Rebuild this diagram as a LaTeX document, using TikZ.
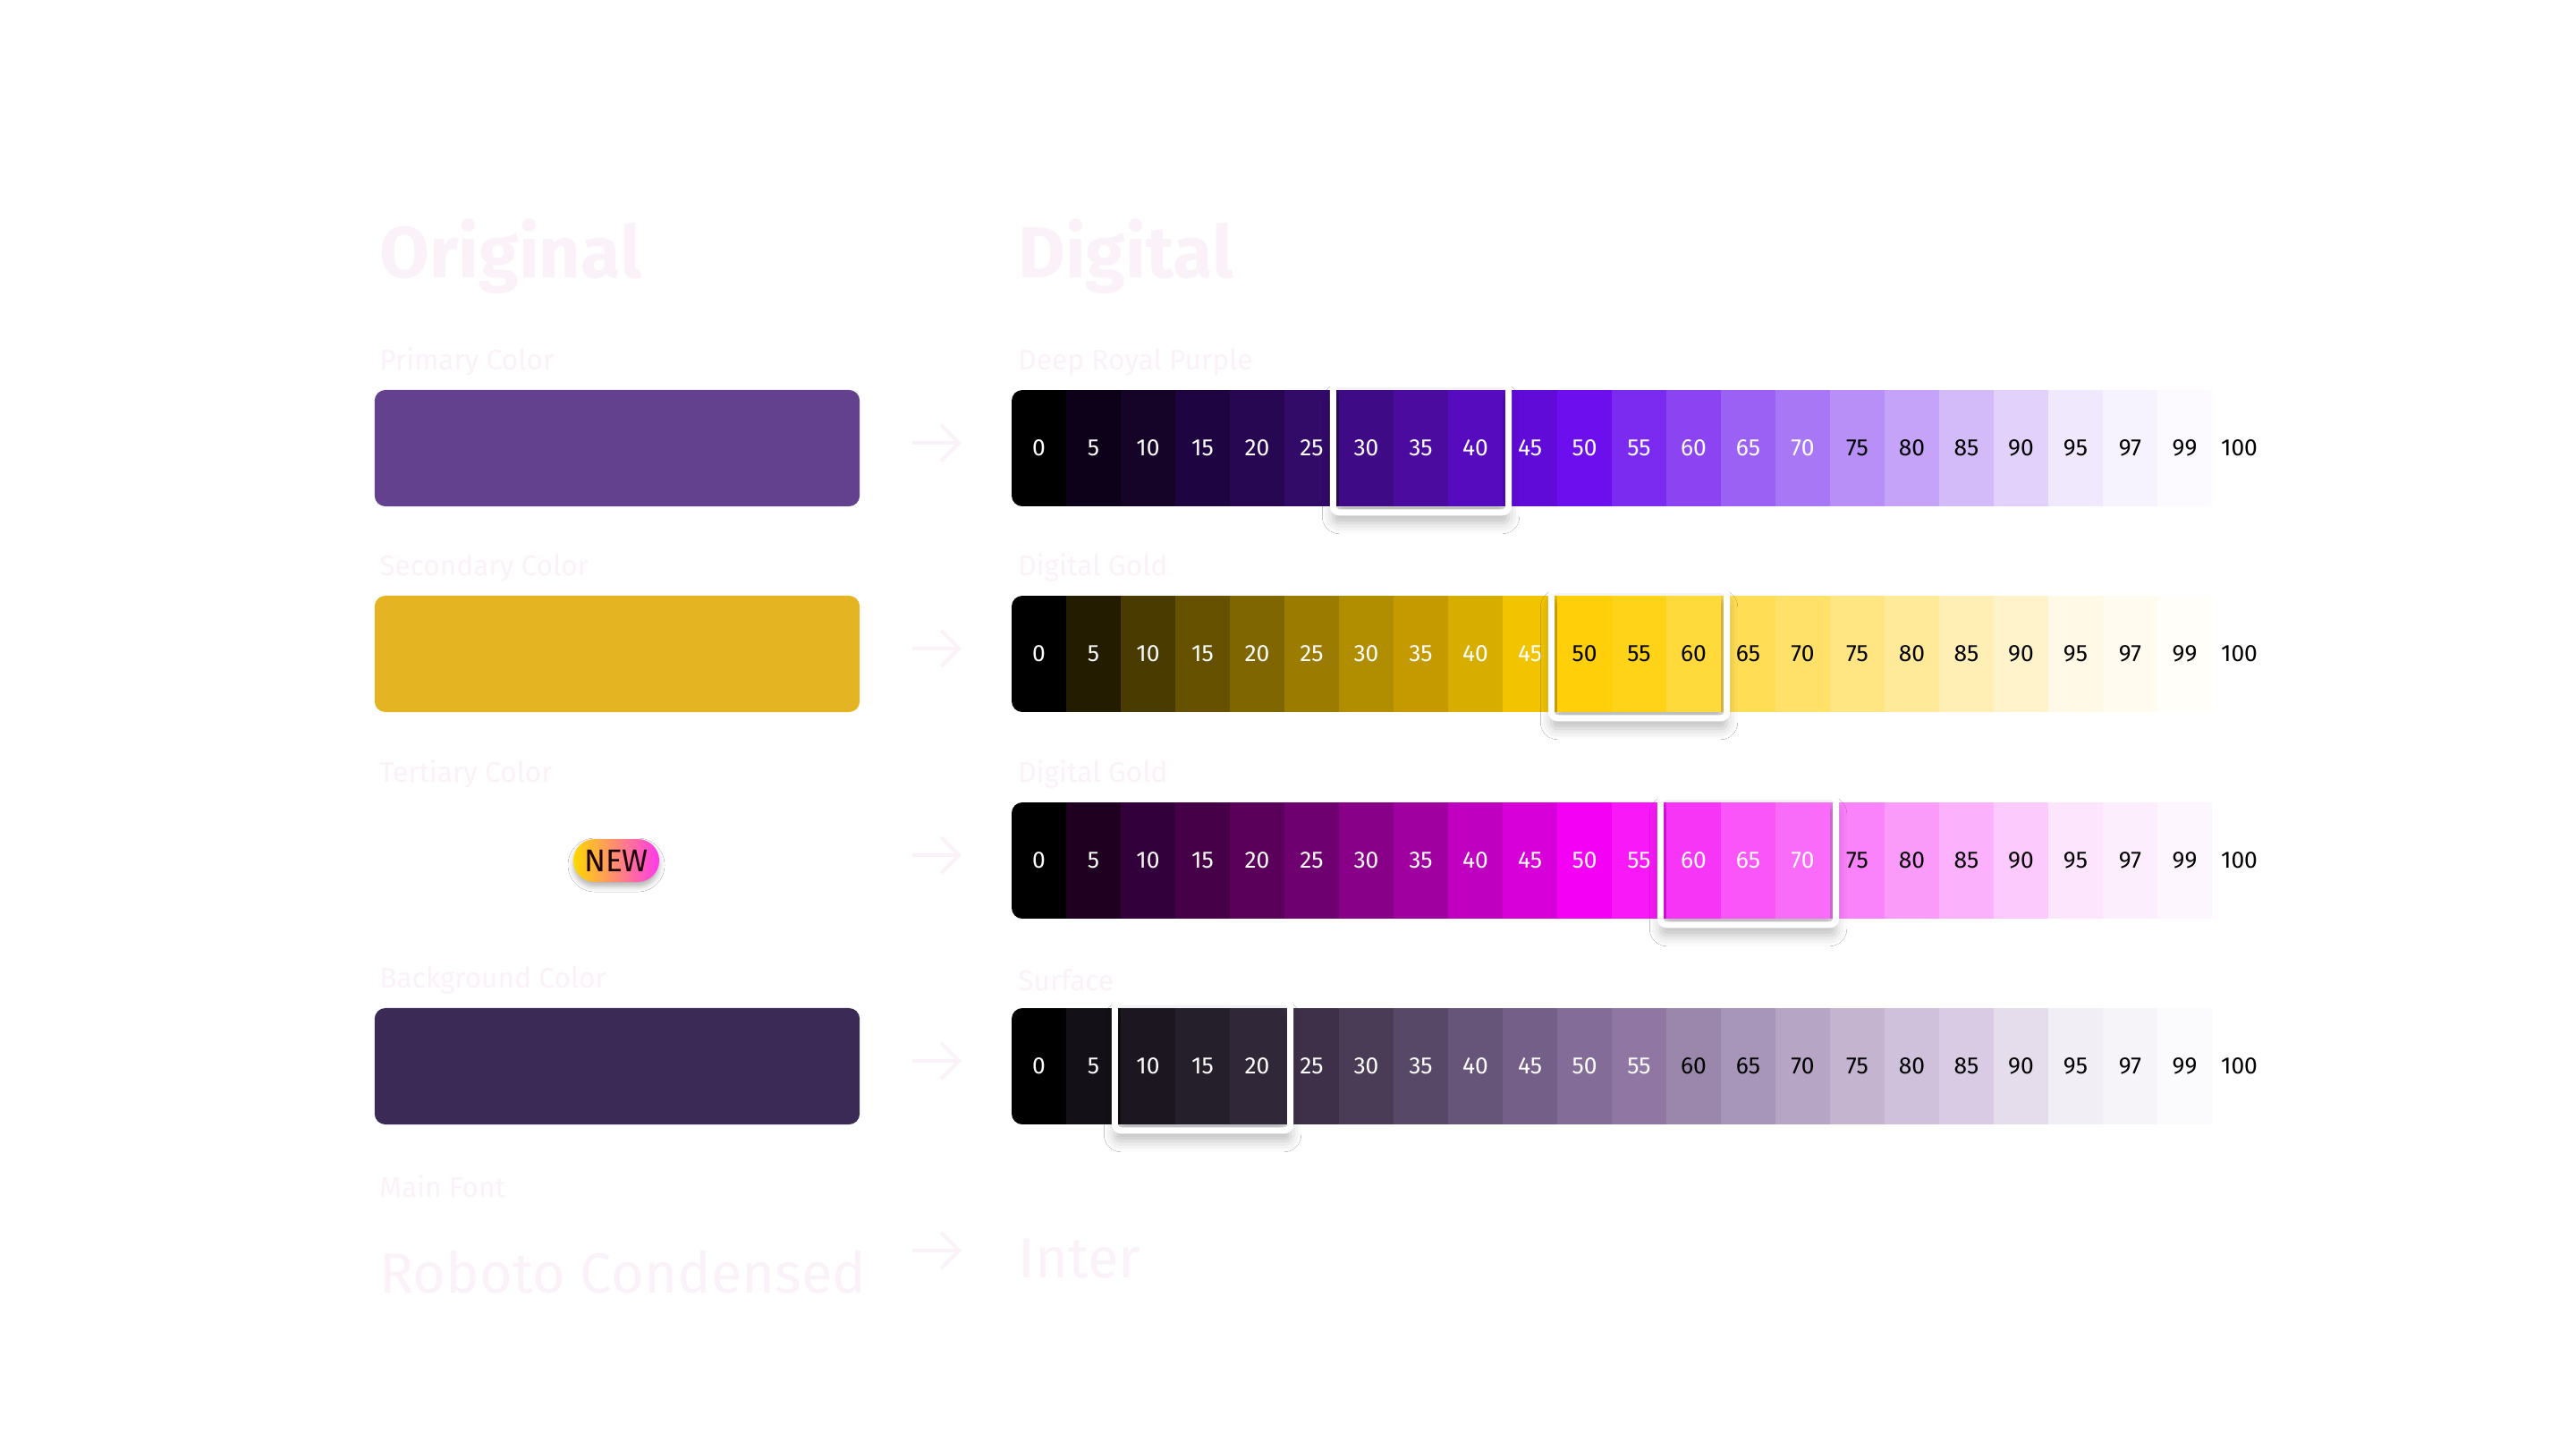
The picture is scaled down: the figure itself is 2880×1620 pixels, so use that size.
\documentclass[tikz,border=0pt]{standalone}
\usepackage{fontspec}
\setmainfont{Fira Sans}
\usetikzlibrary{positioning,shadows.blur}
\definecolor{faint}{HTML}{FBF2F9}
\definecolor{primary}{HTML}{64418F}
\definecolor{secondary}{HTML}{E4B423}
\definecolor{backgr}{HTML}{3B2A56}
\tikzset{
  cell/.style={minimum width=0.61cm,minimum height=1.3cm,inner sep=0pt,
    font=\fontsize{7.5}{9}\selectfont},
  swatch/.style={minimum width=5.42cm,minimum height=1.3cm,inner sep=0pt,
    rounded corners=0.12cm},
  title/.style={text=faint,font=\fontsize{23}{27}\selectfont\bfseries,anchor=west},
  label/.style={text=faint,font=\fontsize{9}{11}\selectfont,anchor=west},
  pick/.style={draw=white,line width=0.07cm,rounded corners=0.07cm,
    blur shadow={shadow xshift=0pt,shadow yshift=-0.12cm,shadow blur radius=0.12cm,shadow opacity=25}},
  go/.style={draw=faint,line width=0.04cm,->,>={Straight Barb[length=0.2cm,width=0.4cm]}}
}
\usetikzlibrary{arrows.meta}
\begin{document}
\begin{tikzpicture}[x=0.01cm,y=-0.01cm]
  \useasboundingbox[fill=white] (0,0) rectangle (2880,1620);
  % headings
  \node[title] (orig) at (412,287) {Original};
  \node[title] (digi) at (1126,287) {Digital};
  % ramps: row / y / label / first dark-text index / picked cell / colours
  \foreach \r/\y/\name/\dark/\p/\cols in {
    1/501/Deep Royal Purple/15/6/{000000,0C0118,150328,1E0542,270752,320A68,3F0A85,4B0B9E,570BBE,610BD8,6D0EEF,7B2AF0,8C44F2,9B60F4,A877F5,B78FF7,C4A3F8,D3BAF9,E2D2FB,F0E8FD,F6F2FE,FCFAFF,FFFFFF},
    2/731/Digital Gold/10/10/{000000,241C00,4A3B00,655100,7F6600,9B7C00,B08E00,C49A00,D7AE00,F2C300,FFCF0A,FFD418,FFDA3A,FFDD55,FFE16A,FFE683,FFEA99,FFEFB4,FFF3CB,FFF9E5,FFFCEF,FFFEF9,FFFFFF},
    3/962/Digital Gold/15/12/{000000,200021,32003A,460048,5A005A,6F0070,880088,A000A0,C000C0,D800D8,F400F4,F818F8,F735F7,F955F9,F96BF9,FA82FA,FA9BFA,FBB1FB,FCCAFC,FDE6FD,FDEEFD,FEF6FE,FFFFFF},
    4/1192/Surface/12/2/{000000,141017,1C1620,251F2B,302738,3D3048,4A3C57,584868,665479,735F88,836C97,9077A3,9B86AC,A896BA,B7A5C6,C4B4D0,CFC1DB,DACBE4,E5DDEC,F2EEF5,F6F3F9,FBFAFC,FFFFFF}}{
    \node[label] (lab\r) at (1126,\y-96) {\name};
    \begin{scope}
      \clip[rounded corners=0.12cm] (1131,\y-65) rectangle (2534,\y+65);
      \foreach \c [count=\i from 0,
        evaluate=\i as \v using {int(\i<21 ? 5*\i : (\i==21 ? 97 : (\i==22 ? 99 : 100)))}] in \cols {
        \definecolor{cc}{HTML}{\c}
        \pgfmathsetmacro{\tc}{\i<\dark ? "white" : "black"}
        \node[cell,fill=cc,text=\tc] (r\r c\i) at (1161.5+61*\i,\y) {};
      }
    \end{scope}
    \foreach \c [count=\i from 0] in \cols {
      \pgfmathtruncatemacro{\v}{\i<20 ? 5*\i : (\i==20 ? 97 : (\i==21 ? 99 : 100))}
      \pgfmathsetmacro{\tc}{\i<\dark ? "white" : "black"}
      \node[cell,text=\tc] at (r\r c\i) {\ifnum\i=0 0\else\v\fi};
    }
    \pgfmathtruncatemacro{\q}{\p+2}
    \draw[pick] ([shift={(-6,-6)}]r\r c\p.north west) rectangle ([shift={(6,6)}]r\r c\q.south east);
    \foreach \c [count=\i from 0] in \cols {
      \ifnum\i<\p\else\ifnum\i>\q\else
        \definecolor{cc}{HTML}{\c}
        \pgfmathtruncatemacro{\v}{5*\i}
        \pgfmathsetmacro{\tc}{\i<\dark ? "white" : "black"}
        \node[cell,fill=cc,text=\tc] at (r\r c\i) {\v};
      \fi\fi
    }
    \coordinate (a\r) at (1020,\y-6);
    \coordinate (b\r) at (1075,\y-6);
    \draw[go] (a\r) -- (b\r);
  }
  % original swatches
  \node[label] (plab) at (412,405) {Primary Color};
  \node[swatch,fill=primary] (pbox) at (690,501) {};
  \node[label] (slab) at (412,635) {Secondary Color};
  \node[swatch,fill=secondary] (sbox) at (690,731) {};
  \node[label] (tlab) at (412,866) {Tertiary Color};
  \node[inner sep=0pt,minimum width=0.96cm,minimum height=0.48cm,rounded corners=0.24cm,
    left color=yellow!70!orange,right color=magenta!70!pink,
    blur shadow={shadow xshift=0pt,shadow yshift=-0.05cm,shadow blur radius=0.06cm,shadow opacity=30},
    font=\fontsize{10}{12}\selectfont,text=black!85!purple] (new) at (689,962) {NEW};
  \node[label] (blab) at (412,1096) {Background Color};
  \node[swatch,fill=backgr] (bbox) at (690,1192) {};
  % font
  \node[label] (flab) at (412,1326) {Main Font};
  \node[label,font=\fontsize{18}{22}\selectfont] (roboto) at (412,1422) {Roboto Condensed};
  \node[label,font=\fontsize{18}{22}\selectfont] (inter) at (1126,1407) {Inter};
  \coordinate (a5) at (1020,1398);
  \coordinate (b5) at (1075,1398);
  \draw[go] (a5) -- (b5);
\end{tikzpicture}
\end{document}
